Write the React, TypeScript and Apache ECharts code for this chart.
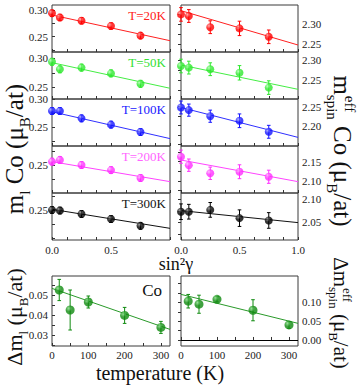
import React, { useEffect, useRef } from "react";
import * as echarts from "echarts";

const FONT = "Liberation Serif, Times New Roman, serif";

// ---- data ----
const sin2g = [0, 0.067, 0.25, 0.5, 0.75];
const fitX = [0, 1];
const tempLabels = ["T=20K", "T=50K", "T=100K", "T=200K", "T=300K"];

const ml20 = [0.294, 0.286, 0.28, 0.27, 0.252];
const ml50 = [0.294, 0.281, 0.284, 0.274, 0.256];
const ml100 = [0.279, 0.279, 0.266, 0.255, 0.242];
const ml200 = [0.256, 0.259, 0.25, 0.241, 0.227];
const ml300 = [0.25, 0.249, 0.243, 0.234, 0.222];
const mlErr = [0.006, 0.006, 0.006, 0.006, 0.006];

const mlFit20 = [0.2906, 0.2425];
const mlFit50 = [0.2925, 0.2483];
const mlFit100 = [0.2776, 0.2305];
const mlFit200 = [0.2559, 0.2206];
const mlFit300 = [0.2512, 0.2176];

const ms20 = [2.324, 2.32, 2.292, 2.289, 2.268];
const ms50 = [2.285, 2.281, 2.277, 2.268, 2.231];
const ms100 = [2.248, 2.241, 2.225, 2.213, 2.184];
const ms200 = [2.163, 2.141, 2.12, 2.124, 2.111];
const ms300 = [2.073, 2.073, 2.077, 2.059, 2.054];
const msErr = [0.017, 0.016, 0.016, 0.018, 0.017];

const msFit20 = [2.3333, 2.2475];
const msFit50 = [2.2875, 2.2267];
const msFit100 = [2.248, 2.1693];
const msFit200 = [2.1543, 2.0983];
const msFit300 = [2.0754, 2.0493];

const temps = [20, 50, 100, 200, 300];
const dml = [0.0525, 0.0425, 0.0465, 0.0398, 0.0338];
const dmlErr = [0.0053, 0.01, 0.003, 0.004, 0.003];
const dms = [0.103, 0.095, 0.108, 0.079, 0.04];
const dmsErr = [0.018, 0.024, 0.007, 0.028, 0.009];
const tempFitX = [0, 325];
const dmlFit = [0.0533, 0.0328];
const dmsFit = [0.1212, 0.0442];

// tick labels
const leftYLabels = [[0.25, 0.3], [0.25, 0.3], [0.25, 0.3], [0.25], [0.25]];
const rightYLabels = [[2.25, 2.3], [2.25, 2.3], [2.2, 2.25], [2.1, 2.15], [2.05, 2.1]];
const leftYRange = [[0.2213, 0.3094], [0.2298, 0.3109], [0.2175, 0.3], [0.2005, 0.2836], [0.197, 0.28]];
const rightYRange = [[2.23, 2.3475], [2.2025, 2.32], [2.1466, 2.2703], [2.0689, 2.1907], [2.0115, 2.1137]];
const xLabelsLeft = [0, 0.5];
const xLabelsRight = [0, 0.5, 1];
const tempTickLabels = [0, 100, 200, 300];
const dmlLabels = [0.03, 0.04, 0.05];
const dmsLabels = [0, 0.05, 0.1];

const mlSets = [ml20, ml50, ml100, ml200, ml300];
const mlFits = [mlFit20, mlFit50, mlFit100, mlFit200, mlFit300];
const msSets = [ms20, ms50, ms100, ms200, ms300];
const msFits = [msFit20, msFit50, msFit100, msFit200, msFit300];

const colors = ["#ff0000", "#2ee82e", "#1414ff", "#ff2eff", "#000000"];
const lightColors = ["#ff9a9a", "#a8ffa8", "#9a9aff", "#ffb0ff", "#808080"];
const lineColors = ["#ff2020", "#44ee44", "#3030ff", "#ff44ff", "#111111"];
const textColors = ["#ff2020", "#33e033", "#2020ff", "#ff66ff", "#111111"];
const green = "#0f8a0f";

function tickVals(min: number, max: number, step: number) {
  const out: number[] = [];
  for (let k = Math.ceil(min / step - 1e-9); k * step <= max + 1e-9; k++) out.push(+(k * step).toFixed(6));
  return out;
}

function sphere(base: string, light: string) {
  return new echarts.graphic.RadialGradient(0.35, 0.32, 0.7, [
    { offset: 0, color: light },
    { offset: 0.5, color: base },
    { offset: 1, color: base },
  ]);
}

let ctx: CanvasRenderingContext2D | null = null;
function tw(t: string, size: number) {
  if (!ctx) ctx = document.createElement("canvas").getContext("2d");
  ctx!.font = `${size}px ${FONT}`;
  return ctx!.measureText(t).width;
}

function rotLabel(cx: number, cy: number, rot: number, F: number, tokens: [string, string][], eff: boolean) {
  const S = Math.round(F * 0.6);
  let W = 0;
  tokens.forEach(([t, k]) => (W += tw(t, k === "n" ? F : S)));
  const w0 = tw(tokens[0][0], F);
  const rich = {
    n: { fontSize: F, fontFamily: FONT, lineHeight: Math.round(1.4 * F), verticalAlign: "middle", fill: "#111" },
    s: { fontSize: S, fontFamily: FONT, lineHeight: S, verticalAlign: "bottom", fill: "#111" },
  };
  const children: any[] = [
    {
      type: "text",
      x: -W / 2,
      y: 0,
      style: {
        text: tokens.map(([t, k]) => `{${k}|${t}}`).join(""),
        rich,
        fill: "#111",
        fontFamily: FONT,
        fontSize: F,
        align: "left",
        verticalAlign: "middle",
      },
    },
  ];
  if (eff)
    children.push({
      type: "text",
      x: -W / 2 + w0 + 1,
      y: -0.33 * F,
      style: { text: "eff", fontSize: S, fontFamily: FONT, fill: "#111", align: "left", verticalAlign: "middle" },
    });
  return { type: "group", x: cx, y: cy, rotation: rot, children };
}

function errSeries(idx: number, data: number[][], color: string) {
  return {
    type: "custom",
    xAxisIndex: idx,
    yAxisIndex: idx,
    clip: false,
    silent: true,
    z: 3,
    data,
    encode: { x: 0, y: 1 },
    renderItem: (_p: any, api: any) => {
      const x = api.value(0);
      const y = api.value(1);
      const e = api.value(2);
      const t = api.coord([x, y + e]);
      const b = api.coord([x, y - e]);
      const c = 1.8;
      const st = { stroke: color, lineWidth: 1 };
      return {
        type: "group",
        children: [
          { type: "line", shape: { x1: t[0], y1: t[1], x2: b[0], y2: b[1] }, style: st },
          { type: "line", shape: { x1: t[0] - c, y1: t[1], x2: t[0] + c, y2: t[1] }, style: st },
          { type: "line", shape: { x1: b[0] - c, y1: b[1], x2: b[0] + c, y2: b[1] }, style: st },
        ],
      };
    },
  };
}

function buildOption() {
  const grids: any[] = [];
  const xAxes: any[] = [];
  const yAxes: any[] = [];
  const series: any[] = [];
  const graphics: any[] = [];
  const axisColor = "#333";
  const labelBase = { fontFamily: FONT, fontSize: 11, color: "#222" };

  const addPanel = (
    left: number,
    top: number,
    width: number,
    height: number,
    xCfg: any,
    yCfg: any,
    pts: number[][],
    fit: number[][],
    color: string,
    light: string,
    lineColor: string,
    symSize: number,
    extra?: any
  ) => {
    const idx = grids.length;
    grids.push({ left, top, width, height, show: true, borderColor: "#3a3a3a", borderWidth: 1, backgroundColor: "transparent" });
    xAxes.push({
      type: "value",
      gridIndex: idx,
      min: xCfg.min,
      max: xCfg.max,
      axisLine: { show: false },
      splitLine: { show: false },
      axisTick: { show: true, inside: true, length: 3, customValues: xCfg.ticks, lineStyle: { color: axisColor } },
      axisLabel: { show: !!xCfg.labels, customValues: xCfg.labels || [], formatter: xCfg.fmt, margin: xCfg.margin, ...labelBase },
    });
    yAxes.push({
      type: "value",
      gridIndex: idx,
      position: yCfg.pos,
      min: yCfg.min,
      max: yCfg.max,
      axisLine: { show: false },
      splitLine: { show: false },
      axisTick: { show: true, inside: true, length: 3, customValues: yCfg.ticks, lineStyle: { color: axisColor } },
      axisLabel: { show: true, customValues: yCfg.labels, formatter: (v: number) => v.toFixed(2), margin: 4, ...labelBase },
    });
    const line: any = {
      type: "line",
      xAxisIndex: idx,
      yAxisIndex: idx,
      data: fit,
      symbol: "none",
      silent: true,
      z: 2,
      lineStyle: { color: lineColor, width: 1 },
    };
    if (extra) line.markLine = extra;
    series.push(line);
    series.push(errSeries(idx, pts, color));
    series.push({
      type: "scatter",
      xAxisIndex: idx,
      yAxisIndex: idx,
      clip: false,
      silent: true,
      z: 4,
      symbolSize: symSize,
      data: pts.map((p) => [p[0], p[1]]),
      itemStyle: { color: sphere(color, light) },
    });
  };

  const xTicks = tickVals(0, 1, 0.125);
  for (let i = 0; i < 5; i++) {
    const top = 5 + 47 * i;
    const lr = leftYRange[i];
    addPanel(
      52, top, 118, 47,
      { min: 0, max: 1, ticks: xTicks, labels: i === 4 ? xLabelsLeft : null, fmt: (v: number) => v.toFixed(1), margin: 4 },
      { pos: "left", min: lr[0], max: lr[1], ticks: tickVals(lr[0], lr[1], 0.025), labels: leftYLabels[i] },
      sin2g.map((x, j) => [x, mlSets[i][j], mlErr[j]]),
      fitX.map((x, j) => [x, mlFits[i][j]]),
      colors[i], lightColors[i], lineColors[i], 8
    );
    const rr = rightYRange[i];
    addPanel(
      181, top, 117, 47,
      { min: 0, max: 1, ticks: xTicks, labels: i === 4 ? xLabelsRight : null, fmt: (v: number) => v.toFixed(1), margin: 4 },
      { pos: "right", min: rr[0], max: rr[1], ticks: tickVals(rr[0], rr[1], 0.025), labels: rightYLabels[i] },
      sin2g.map((x, j) => [x, msSets[i][j], msErr[j]]),
      fitX.map((x, j) => [x, msFits[i][j]]),
      colors[i], lightColors[i], lineColors[i], 8
    );
    graphics.push({
      type: "text",
      x: 166,
      y: top + 10,
      style: { text: tempLabels[i], fontFamily: FONT, fontSize: 13, fill: textColors[i], align: "right", verticalAlign: "middle" },
    });
  }

  const tTicks = tickVals(0, 325, 50);
  addPanel(
    52, 276, 118, 70,
    { min: 0, max: 325, ticks: tTicks, labels: tempTickLabels, fmt: (v: number) => String(v), margin: 3 },
    { pos: "left", min: 0.0245, max: 0.0595, ticks: tickVals(0.0245, 0.0595, 0.005), labels: dmlLabels },
    temps.map((x, j) => [x, dml[j], dmlErr[j]]),
    tempFitX.map((x, j) => [x, dmlFit[j]]),
    green, "#80d880", "#2a9a2a", 9
  );
  addPanel(
    181, 276, 117, 70,
    { min: 0, max: 325, ticks: tTicks, labels: tempTickLabels, fmt: (v: number) => String(v), margin: 3 },
    { pos: "right", min: -0.016, max: 0.17, ticks: tickVals(-0.016, 0.17, 0.025), labels: dmsLabels },
    temps.map((x, j) => [x, dms[j], dmsErr[j]]),
    tempFitX.map((x, j) => [x, dmsFit[j]]),
    green, "#80d880", "#2a9a2a", 9,
    { silent: true, symbol: ["none", "none"], label: { show: false }, lineStyle: { color: "#000", width: 1.2, type: "solid" }, data: [{ yAxis: 0 }] }
  );

  graphics.push({
    type: "text",
    x: 162,
    y: 290,
    style: { text: "Co", fontFamily: FONT, fontSize: 17, fill: "#111", align: "right", verticalAlign: "middle" },
  });
  graphics.push({
    type: "text",
    x: 176,
    y: 264,
    style: { text: "sin²γ", fontFamily: FONT, fontSize: 18, fill: "#111", align: "center", verticalAlign: "middle" },
  });
  graphics.push({
    type: "text",
    x: 160,
    y: 373,
    style: { text: "temperature (K)", fontFamily: FONT, fontSize: 20, fill: "#111", align: "center", verticalAlign: "middle" },
  });
  const sp = "\u00a0";
  graphics.push(rotLabel(14.5, 149, Math.PI / 2, 25, [["m", "n"], ["l", "s"], [`${sp}Co${sp}(μ`, "n"], ["B", "s"], ["/at)", "n"]], false));
  graphics.push(rotLabel(342, 151, -Math.PI / 2, 25, [["m", "n"], ["spin", "s"], [`${sp}Co${sp}(μ`, "n"], ["B", "s"], ["/at)", "n"]], true));
  graphics.push(rotLabel(14.5, 317, Math.PI / 2, 22, [["Δm", "n"], ["l", "s"], [`${sp}(μ`, "n"], ["B", "s"], ["/at)", "n"]], false));
  graphics.push(rotLabel(341, 313, -Math.PI / 2, 21, [["Δm", "n"], ["spin", "s"], [`${sp}(μ`, "n"], ["B", "s"], ["/at)", "n"]], true));

  return {
    animation: false,
    backgroundColor: "#ffffff",
    grid: grids,
    xAxis: xAxes,
    yAxis: yAxes,
    series,
    graphic: graphics,
  };
}

export default function App() {
  const ref = useRef<HTMLDivElement>(null);
  useEffect(() => {
    const chart = echarts.init(ref.current!, null, { renderer: "svg" });
    chart.setOption(buildOption() as any);
    return () => chart.dispose();
  }, []);
  return <div ref={ref} style={{ position: "fixed", left: 0, top: 0, width: 358, height: 385 }} />;
}
